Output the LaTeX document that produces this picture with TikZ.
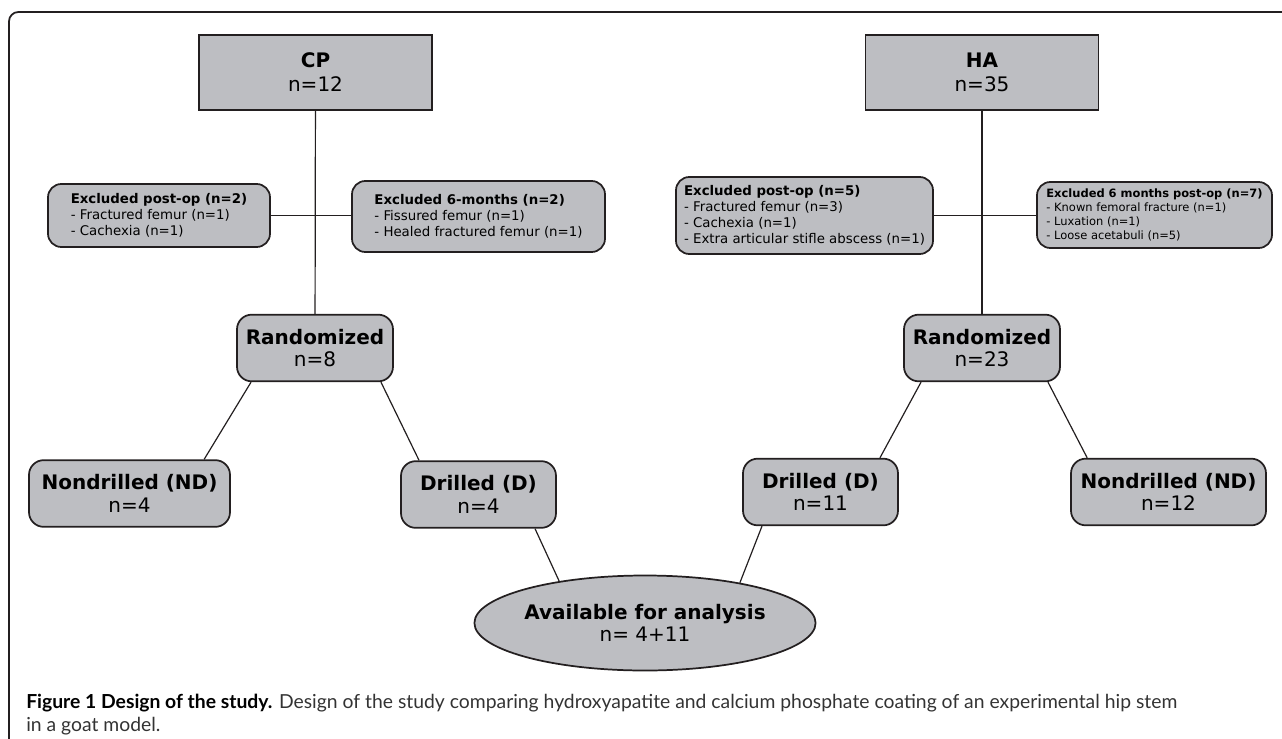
\documentclass[tikz,border=0pt]{standalone}
\usepackage{fontspec}
\usepackage{xcolor}
\usepackage{tikz}
\usetikzlibrary{shapes.geometric}
\setmainfont{DejaVu Sans}
\newfontfamily\capfont{Lato}
\definecolor{boxgray}{HTML}{BDBEC2}
\definecolor{edgeblack}{HTML}{231F20}

\begin{document}
\begin{tikzpicture}[x=0.75pt,y=-0.75pt,
      groupbox/.style={rectangle, draw=edgeblack, fill=boxgray, line width=1.3pt,
        minimum width=174.75pt, minimum height=56.25pt, align=center,
        font=\fontsize{15}{18}\selectfont},
      armbox/.style={rectangle, rounded corners=11pt, draw=edgeblack, fill=boxgray,
        line width=1.3pt, minimum height=50pt, align=center,
        font=\fontsize{15}{17}\selectfont},
      exclbox/.style={rectangle, rounded corners=10pt, draw=edgeblack, fill=boxgray,
        line width=1.3pt, align=left, font=\fontsize{10}{12}\selectfont},
      link/.style={draw=edgeblack, line width=0.9pt}
      ]
      \useasboundingbox (0,0) rectangle (1282,739);
      \draw[edgeblack, line width=1.3pt, rounded corners=7pt] (9,739) -- (9,12) -- (1282,12);

      % groups
      \node[groupbox] (cp) at (315.5,72.5) {\textbf{CP}\\n=12};
      \node[groupbox] (ha) at (982,72.5) {\textbf{HA}\\n=35};

      % exclusions
      \node[exclbox, minimum width=166.5pt, minimum height=47.25pt] (cpxl) at (159,215.5)
        {\textbf{Excluded post-op (n=2)}\\- Fractured femur (n=1)\\- Cachexia (n=1)};
      \node[exclbox, minimum width=189.75pt, minimum height=53.25pt] (cpxr) at (478.5,216.5)
        {\textbf{Excluded 6-months (n=2)}\\- Fissured femur (n=1)\\- Healed fractured femur (n=1)};
      \node[exclbox, minimum width=192.75pt, minimum height=57.75pt] (haxl) at (804.5,215.5)
        {\textbf{Excluded post-op (n=5)}\\- Fractured femur (n=3)\\- Cachexia (n=1)\\- Extra articular stifle abscess (n=1)};
      \node[exclbox, minimum width=176.25pt, minimum height=49.5pt,
        font=\fontsize{8.6}{10.5}\selectfont] (haxr) at (1154.5,215)
        {\textbf{Excluded 6 months post-op (n=7)}\\- Known femoral fracture (n=1)\\- Luxation (n=1)\\- Loose acetabuli (n=5)};

      % randomisation
      \node[armbox, minimum width=117pt] (cprand) at (315,348) {\textbf{Randomized}\\n=8};
      \node[armbox, minimum width=117pt] (harand) at (982,348) {\textbf{Randomized}\\n=23};

      \node[armbox, minimum width=150.75pt] (cpnd) at (129.5,493.5) {\textbf{Nondrilled (ND)}\\n=4};
      \node[armbox, minimum width=116.25pt] (cpd) at (478.5,494.5) {\textbf{Drilled (D)}\\n=4};
      \node[armbox, minimum width=116.25pt] (had) at (820.5,492) {\textbf{Drilled (D)}\\n=11};
      \node[armbox, minimum width=146.25pt] (hand) at (1168.5,492) {\textbf{Nondrilled (ND)}\\n=12};

      \node[ellipse, draw=edgeblack, fill=boxgray, line width=1.3pt, inner sep=0pt,
        minimum width=228.75pt, minimum height=71.25pt, align=center,
        font=\fontsize{15}{17}\selectfont] (avail) at (645,623)
        {\textbf{Available for analysis}\\n= 4+11};

      % connectors
      \draw[link] (cp) -- (cprand);
      \draw[link] (ha) -- (harand);
      \draw[link] (cpxl.east) -- (cpxl.east -| cpxr.west);
      \draw[link] (haxl.east) -- (haxl.east -| haxr.west);
      \draw[link] ([xshift=-48pt]cprand.south) -- ([xshift=56pt]cpnd.north);
      \draw[link] ([xshift=49.5pt]cprand.south) -- ([xshift=-44.6pt]cpd.north);
      \draw[link] ([xshift=-45.75pt]harand.south) -- ([xshift=44.6pt]had.north);
      \draw[link] ([xshift=49.5pt]harand.south) -- ([xshift=-61pt]hand.north);
      \draw[link] ([xshift=42.4pt]cpd.south) -- (avail.154);
      \draw[link] ([xshift=-43.9pt]had.south) -- (avail.23);

      % caption
      \node[anchor=north west, align=left, inner sep=0pt, text=black!80,
        font=\capfont\fontsize{14.5}{17.25}\selectfont] (caption) at (26,694)
        {{\color{black}\textbf{Figure 1 Design of the study.}} Design of the study comparing hydroxyapatite and calcium phosphate coating of an experimental hip stem\\in a goat model.};
    \end{tikzpicture}
\end{document}
